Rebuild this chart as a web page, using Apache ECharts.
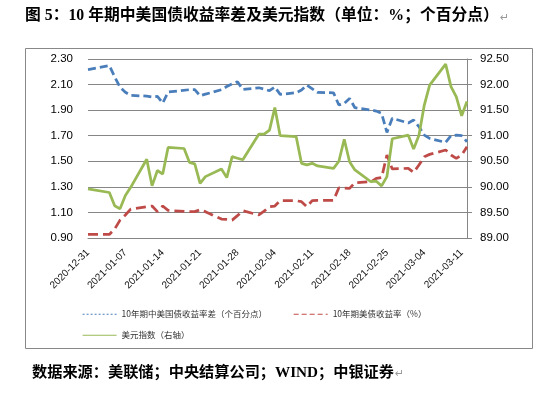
<!DOCTYPE html>
<html>
<head>
<meta charset="utf-8">
<script src="https://cdn.jsdelivr.net/npm/echarts@6/dist/echarts.min.js"></script>
<style>
  html, body { margin: 0; padding: 0; background: #fff; }
  #chart { width: 549px; height: 398px; }
</style>
</head>
<body>
<div id="chart"></div>
<script>
// trading days
const tradeDates = ['2020-12-31', '2021-01-04', '2021-01-05', '2021-01-06', '2021-01-07', '2021-01-08',
  '2021-01-11', '2021-01-12', '2021-01-13', '2021-01-14', '2021-01-15', '2021-01-18', '2021-01-19',
  '2021-01-20', '2021-01-21', '2021-01-22', '2021-01-25', '2021-01-26', '2021-01-27', '2021-01-28',
  '2021-01-29', '2021-02-01', '2021-02-02', '2021-02-03', '2021-02-04', '2021-02-05', '2021-02-08',
  '2021-02-09', '2021-02-10', '2021-02-11', '2021-02-12', '2021-02-15', '2021-02-16', '2021-02-17',
  '2021-02-18', '2021-02-19', '2021-02-22', '2021-02-23', '2021-02-24', '2021-02-25', '2021-02-26',
  '2021-03-01', '2021-03-02', '2021-03-03', '2021-03-04', '2021-03-05', '2021-03-08', '2021-03-09',
  '2021-03-10', '2021-03-11', '2021-03-12']

// 10年期中美国债收益率差（个百分点）
const spread = [2.217, 2.248, 2.16, 2.08, 2.04, 2.015, 2.01, 2.003, 2.008, 1.955, 2.042, null, 2.06,
  2.06, 2.013, 2.025, 2.06, 2.085, 2.105, 2.122, 2.062, 2.075, 2.065, 2.052, 2.081, 2.023, 2.036,
  2.057, 2.096, null, 2.039, 2.035, 1.94, 1.953, 1.992, 1.919, 1.901, 1.893, 1.875, 1.726, 1.836,
  1.80, 1.823, 1.77, 1.705, 1.679, 1.648, 1.70, 1.705, 1.70, 1.653]

// 10年期美债收益率（%）
const ust10y = [0.928, 0.928, 0.97, 1.04, 1.08, 1.126, 1.145, 1.15, 1.106, 1.15, 1.116, null, 1.106,
  1.106, 1.121, 1.106, 1.048, 1.045, 1.04, 1.075, 1.113, 1.08, 1.11, 1.145, 1.15, 1.192, 1.192,
  1.184, 1.145, 1.192, 1.194, 1.195, 1.293, 1.29, 1.288, 1.333, 1.34, 1.366, 1.372, 1.549, 1.44,
  1.445, 1.413, 1.471, 1.536, 1.554, 1.588, 1.549, 1.523, 1.549, 1.614]

// 美元指数（右轴）
const dxy = [89.96, 89.89, 89.63, 89.57, 89.83, 89.99, 90.54, 90.02, 90.32, 90.25, 90.77, 90.75, 90.48,
  90.45, 90.07, 90.20, 90.35, 90.18, 90.59, 90.56, 90.53, 91.03, 91.03, 91.11, 91.55, 91.00, 90.98,
  90.46, 90.43, 90.46, 90.41, 90.36, 90.50, 90.93, 90.49, 90.33, 90.10, 90.11, 90.02, 90.20, 90.94,
  91.01, 90.74, 91.01, 91.60, 91.99, 92.40, 91.96, 91.76, 91.39, 91.67]

const names = ['10年期中美国债收益率差（个百分点）', '10年期美债收益率（%）', '美元指数（右轴）']

// date axis: every calendar day, label one per week
const days = []
let d = new Date(tradeDates[0] + 'T00:00:00Z')
const end = new Date(tradeDates[tradeDates.length - 1] + 'T00:00:00Z')
while (d <= end) {
  days.push(d.toISOString().slice(0, 10))
  d = new Date(d.getTime() + 86400000)
}
let onDays = (vals) => days.map(day => {
  let i = tradeDates.indexOf(day)
  return i < 0 ? null : vals[i]
})

const serif = '"Liberation Serif", "Noto Sans CJK SC"'
const cjk = '"Noto Sans CJK SC"'

// heading / source text with the grey paragraph mark
let wordText = (text, size) => ({
  text: '{t|' + text + '}{p|↵}',
  rich: {
    t: { font: 'bold ' + size + 'px ' + serif, fill: '#000' },
    p: { fontSize: 11, fill: '#999', fontFamily: 'DejaVu Sans', padding: [4, 0, 0, 1] }
  }
})

var myChart = echarts.init(document.getElementById('chart'))
var option = {
  animation: false,
  backgroundColor: '#fff',
  graphic: [
    { type: 'text', left: 25, top: 8, style: wordText('图 5：10 年期中美国债收益率差及美元指数（单位：%；个百分点）', 15.8) },
    { type: 'rect', left: 23, top: 46, shape: { width: 507, height: 300 },
      style: { fill: 'none', stroke: '#888', lineWidth: 1 } },
    { type: 'text', left: 32, top: 365, style: wordText('数据来源：美联储；中央结算公司；WIND；中银证券', 15.2) }
  ],
  grid: { left: 88, right: 82, top: 59, bottom: 160 },
  legend: [
    {
      data: [
        { name: names[0], lineStyle: { type: [2, 2], width: 1.2 } },
        { name: names[1], lineStyle: { type: [5, 3], width: 1.2 } }
      ],
      left: 77, top: 305, itemWidth: 34, itemHeight: 8, itemGap: 26,
      itemStyle: { opacity: 0 },
      textStyle: { fontSize: 8.5, color: '#333', fontFamily: cjk }
    },
    {
      data: [{ name: names[2], lineStyle: { width: 1.2 } }],
      left: 77, top: 326, itemWidth: 34, itemHeight: 8,
      itemStyle: { opacity: 0 },
      textStyle: { fontSize: 8.5, color: '#333', fontFamily: cjk }
    }
  ],
  xAxis: {
    type: 'category',
    data: days,
    boundaryGap: false,
    axisLine: { show: true, lineStyle: { color: '#868686' } },
    axisTick: { show: false },
    axisLabel: { interval: 6, rotate: 45, fontSize: 10, color: '#111', margin: 13, fontFamily: 'Liberation Sans' }
  },
  yAxis: [
    {
      type: 'value', min: 0.9, max: 2.3, interval: 0.2,
      axisLine: { show: false },
      axisTick: { show: false },
      splitLine: { lineStyle: { color: '#868686' } },
      axisLabel: { formatter: v => v.toFixed(2), fontSize: 11.5, color: '#000', margin: 15, fontFamily: 'Liberation Sans' }
    },
    {
      type: 'value', min: 89, max: 92.5, interval: 0.5, position: 'right',
      axisLine: { show: true, lineStyle: { color: '#868686' } },
      axisTick: { show: true, length: 5, lineStyle: { color: '#868686' } },
      splitLine: { show: false },
      axisLabel: { formatter: v => v.toFixed(2), fontSize: 11.5, color: '#000', margin: 13, fontFamily: 'Liberation Sans' }
    }
  ],
  series: [
    {
      name: names[0], type: 'line', data: onDays(spread), connectNulls: true,
      symbol: 'none', color: '#4a7ebb',
      lineStyle: { width: 2.75, type: [8, 4], color: '#4a7ebb' }
    },
    {
      name: names[1], type: 'line', data: onDays(ust10y), connectNulls: true,
      symbol: 'none', color: '#be4b48',
      lineStyle: { width: 2.75, type: [10, 5], color: '#be4b48' }
    },
    {
      name: names[2], type: 'line', yAxisIndex: 1, data: onDays(dxy), connectNulls: true,
      symbol: 'none', color: '#98b954',
      lineStyle: { width: 2.75, color: '#98b954' }
    }
  ]
}
option && myChart.setOption(option)
</script>
</body>
</html>
